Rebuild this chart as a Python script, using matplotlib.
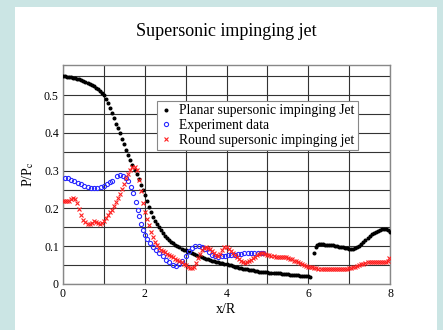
import matplotlib
matplotlib.use("Agg")
import matplotlib.pyplot as plt
from matplotlib.patches import Rectangle

plt.rcParams['font.family'] = ['Liberation Serif', 'DejaVu Serif']
plt.rcParams['mathtext.fontset'] = 'stix'

# ---- data ----
planar_x1 = [0.00, 0.05, 0.10, 0.15, 0.20, 0.25, 0.30, 0.35, 0.40, 0.45, 0.50, 0.55, 0.60, 0.65,
             0.70, 0.75, 0.80, 0.85, 0.90, 0.95, 1.00, 1.05, 1.10, 1.15, 1.20, 1.25, 1.30, 1.35,
             1.40, 1.45, 1.50, 1.55, 1.60, 1.65, 1.70, 1.75, 1.80, 1.85, 1.90, 1.95, 2.00, 2.05,
             2.10, 2.15, 2.20, 2.25, 2.30, 2.35, 2.40, 2.45, 2.50, 2.55, 2.60, 2.65, 2.70, 2.75,
             2.80, 2.85, 2.90, 2.95, 3.00, 3.05, 3.10, 3.15, 3.20, 3.25, 3.30, 3.35, 3.40, 3.45,
             3.50, 3.55, 3.60, 3.65, 3.70, 3.75, 3.80, 3.85, 3.90, 3.95, 4.00, 4.05, 4.10, 4.15,
             4.20, 4.25, 4.30, 4.35, 4.40, 4.45, 4.50, 4.55, 4.60, 4.65, 4.70, 4.75, 4.80, 4.85,
             4.90, 4.95, 5.00, 5.05, 5.10, 5.15, 5.20, 5.25, 5.30, 5.35, 5.40, 5.45, 5.50, 5.55,
             5.60, 5.65, 5.70, 5.75, 5.80, 5.85, 5.90, 5.95, 6.00, 6.05]
planar_y1 = [0.550, 0.550, 0.549, 0.548, 0.547, 0.546, 0.545, 0.544, 0.542, 0.540, 0.538, 0.536,
             0.533, 0.530, 0.527, 0.524, 0.520, 0.516, 0.512, 0.507, 0.500, 0.491, 0.480, 0.467,
             0.453, 0.439, 0.425, 0.412, 0.399, 0.385, 0.370, 0.356, 0.342, 0.328, 0.315, 0.303,
             0.292, 0.277, 0.263, 0.249, 0.235, 0.220, 0.205, 0.190, 0.177, 0.167, 0.158, 0.150,
             0.142, 0.135, 0.128, 0.122, 0.117, 0.112, 0.108, 0.104, 0.100, 0.097, 0.094, 0.091,
             0.089, 0.086, 0.084, 0.081, 0.079, 0.077, 0.075, 0.073, 0.071, 0.069, 0.067, 0.065,
             0.064, 0.062, 0.061, 0.059, 0.058, 0.056, 0.055, 0.053, 0.052, 0.050, 0.049, 0.047,
             0.046, 0.044, 0.043, 0.042, 0.041, 0.040, 0.039, 0.038, 0.037, 0.036, 0.035, 0.034,
             0.033, 0.032, 0.032, 0.031, 0.031, 0.030, 0.030, 0.029, 0.029, 0.028, 0.028, 0.027,
             0.027, 0.026, 0.026, 0.025, 0.025, 0.024, 0.024, 0.023, 0.022, 0.022, 0.021, 0.021,
             0.020, 0.019]
planar_x2 = [6.14, 6.18, 6.22, 6.26, 6.30, 6.35, 6.40, 6.45, 6.50, 6.55, 6.60, 6.65, 6.70, 6.75,
             6.80, 6.85, 6.90, 6.95, 7.00, 7.05, 7.10, 7.15, 7.20, 7.25, 7.30, 7.35, 7.40, 7.45,
             7.50, 7.55, 7.60, 7.65, 7.70, 7.75, 7.80, 7.85, 7.90, 7.95, 8.00]
planar_y2 = [0.083, 0.099, 0.104, 0.106, 0.106, 0.105, 0.104, 0.103, 0.103, 0.102, 0.102, 0.101,
             0.100, 0.099, 0.098, 0.097, 0.096, 0.095, 0.094, 0.093, 0.093, 0.095, 0.098, 0.101,
             0.106, 0.111, 0.117, 0.122, 0.127, 0.132, 0.136, 0.139, 0.141, 0.143, 0.145, 0.146,
             0.145, 0.143, 0.139]

exp_x = [0.05, 0.12, 0.20, 0.28, 0.36, 0.44, 0.52, 0.60, 0.68, 0.76, 0.84, 0.92, 1.00, 1.07,
         1.14, 1.20, 1.33, 1.40, 1.47, 1.54, 1.60, 1.66, 1.72, 1.78, 1.83, 1.86, 1.90, 1.95,
         2.00, 2.06, 2.12, 2.20, 2.28, 2.36, 2.44, 2.52, 2.60, 2.68, 2.76, 2.84, 2.92, 3.00,
         3.08, 3.16, 3.24, 3.32, 3.40, 3.48, 3.56, 3.64, 3.72, 3.80, 3.88, 3.96, 4.04, 4.12,
         4.20, 4.28, 4.36, 4.44, 4.52, 4.60, 4.68, 4.76, 4.84, 4.90]
exp_y = [0.282, 0.280, 0.276, 0.272, 0.268, 0.264, 0.260, 0.257, 0.255, 0.255, 0.255, 0.257,
         0.260, 0.264, 0.269, 0.274, 0.287, 0.288, 0.287, 0.282, 0.272, 0.258, 0.240, 0.218,
         0.197, 0.180, 0.160, 0.143, 0.130, 0.118, 0.108, 0.098, 0.089, 0.081, 0.073, 0.064,
         0.057, 0.051, 0.048, 0.052, 0.062, 0.075, 0.087, 0.095, 0.100, 0.101, 0.098, 0.092,
         0.084, 0.077, 0.073, 0.072, 0.073, 0.074, 0.076, 0.077, 0.078, 0.079, 0.080, 0.081,
         0.082, 0.082, 0.083, 0.083, 0.083, 0.082]

round_x = [0.00, 0.05, 0.10, 0.15, 0.20, 0.25, 0.30, 0.35, 0.40, 0.45, 0.50, 0.55, 0.60, 0.65,
           0.70, 0.75, 0.80, 0.85, 0.90, 0.95, 1.00, 1.05, 1.10, 1.15, 1.20, 1.25, 1.30, 1.35,
           1.40, 1.45, 1.50, 1.55, 1.60, 1.65, 1.70, 1.75, 1.80, 1.85, 1.90, 1.95, 2.00, 2.05,
           2.10, 2.15, 2.20, 2.25, 2.30, 2.35, 2.40, 2.45, 2.50, 2.55, 2.60, 2.65, 2.70, 2.75,
           2.80, 2.85, 2.90, 2.95, 3.00, 3.05, 3.10, 3.15, 3.20, 3.25, 3.30, 3.35, 3.40, 3.45,
           3.50, 3.55, 3.60, 3.65, 3.70, 3.75, 3.80, 3.85, 3.90, 3.95, 4.00, 4.05, 4.10, 4.15,
           4.20, 4.25, 4.30, 4.35, 4.40, 4.45, 4.50, 4.55, 4.60, 4.65, 4.70, 4.75, 4.80, 4.85,
           4.90, 4.95, 5.00, 5.05, 5.10, 5.15, 5.20, 5.25, 5.30, 5.35, 5.40, 5.45, 5.50, 5.55,
           5.60, 5.65, 5.70, 5.75, 5.80, 5.85, 5.90, 5.95, 6.00, 6.05, 6.10, 6.15, 6.20, 6.25,
           6.30, 6.35, 6.40, 6.45, 6.50, 6.55, 6.60, 6.65, 6.70, 6.75, 6.80, 6.85, 6.90, 6.95,
           7.00, 7.05, 7.10, 7.15, 7.20, 7.25, 7.30, 7.35, 7.40, 7.45, 7.50, 7.55, 7.60, 7.65,
           7.70, 7.75, 7.80, 7.85, 7.90, 7.95, 7.98]
round_y = [0.220, 0.220, 0.220, 0.220, 0.225, 0.229, 0.225, 0.215, 0.198, 0.183, 0.170, 0.163,
           0.160, 0.160, 0.162, 0.166, 0.165, 0.161, 0.159, 0.161, 0.166, 0.175, 0.183, 0.190,
           0.197, 0.206, 0.216, 0.227, 0.238, 0.252, 0.266, 0.280, 0.292, 0.303, 0.311, 0.309,
           0.302, 0.275, 0.245, 0.215, 0.190, 0.172, 0.155, 0.138, 0.124, 0.112, 0.103, 0.096,
           0.091, 0.087, 0.084, 0.080, 0.076, 0.073, 0.071, 0.067, 0.064, 0.060, 0.057, 0.053,
           0.049, 0.045, 0.043, 0.043, 0.046, 0.055, 0.068, 0.080, 0.089, 0.095, 0.097, 0.096,
           0.092, 0.088, 0.083, 0.078, 0.075, 0.080, 0.090, 0.097, 0.097, 0.093, 0.088, 0.083,
           0.078, 0.072, 0.066, 0.061, 0.058, 0.056, 0.057, 0.060, 0.064, 0.068, 0.072, 0.076,
           0.079, 0.081, 0.082, 0.080, 0.078, 0.077, 0.075, 0.074, 0.072, 0.071, 0.071, 0.072,
           0.072, 0.071, 0.069, 0.067, 0.065, 0.062, 0.060, 0.057, 0.055, 0.052, 0.050, 0.048,
           0.046, 0.045, 0.044, 0.043, 0.042, 0.041, 0.041, 0.040, 0.040, 0.040, 0.040, 0.039,
           0.039, 0.039, 0.039, 0.039, 0.040, 0.040, 0.040, 0.041, 0.042, 0.043, 0.044, 0.045,
           0.047, 0.049, 0.052, 0.054, 0.056, 0.057, 0.058, 0.059, 0.059, 0.059, 0.059, 0.059,
           0.059, 0.059, 0.059, 0.060, 0.070]

x_grid = [0, 1, 2, 3, 4, 5, 6, 7, 8]
x_tick_labels = ['0', '', '2', '', '4', '', '6', '', '8']
y_grid = [0, 0.05, 0.1, 0.15, 0.2, 0.25, 0.3, 0.35, 0.4, 0.45, 0.5, 0.55]
y_tick_labels = ['0', '', '0.1', '', '0.2', '', '0.3', '', '0.4', '', '0.5', '']

title = "Supersonic impinging jet"
labels = ["Planar supersonic impinging Jet", "Experiment data", "Round supersonic impinging jet"]

# ---- figure ----
fig = plt.figure(figsize=(4.43, 3.30), dpi=100)
fig.patch.set_facecolor('#cbe5e4')
panel = Rectangle((15 / 443, 0), (437 - 15) / 443, 1 - 7 / 330,
                  transform=fig.transFigure, facecolor='white',
                  edgecolor='none', zorder=-10)
fig.add_artist(panel)

ax = fig.add_axes([63 / 443, 1 - 284 / 330, (390 - 63) / 443, (284 - 65) / 330])
ax.set_zorder(5)
ax.set_facecolor('white')

ax.plot(planar_x1, planar_y1, linestyle='none', marker='o', ms=1.9, color='black',
        label=labels[0], zorder=3)
ax.plot(planar_x2, planar_y2, linestyle='none', marker='o', ms=1.9, color='black', zorder=3)
ax.plot(exp_x, exp_y, linestyle='none', marker='o', ms=3.0, mfc='none', mec='#2b2bff',
        mew=0.8, label=labels[1], zorder=3)
ax.plot(round_x, round_y, linestyle='none', marker='x', ms=2.6, color='#ff2020',
        mew=0.8, label=labels[2], zorder=3)

ax.set_xlim(0, 8)
ax.set_ylim(0, 0.58)
ax.set_xticks(x_grid)
ax.set_xticklabels(x_tick_labels)
ax.set_yticks(y_grid)
ax.set_yticklabels(y_tick_labels)
ax.grid(True, color='#333333', linewidth=0.8, zorder=1)
ax.set_axisbelow(True)
ax.tick_params(length=0, labelsize=8.5, pad=3)
for s in ax.spines.values():
    s.set_color('#888888')
    s.set_linewidth(1.0)

ax.set_xlabel('x/R', fontsize=10, labelpad=2)
ax.set_ylabel(r'P/P$_{\mathrm{c}}$', fontsize=10, labelpad=6)
ax.set_title(title, fontsize=13, pad=21)

leg = ax.legend(loc='upper left', bbox_to_anchor=((157 - 63) / 327, (284 - 101) / 219),
                borderaxespad=0, fontsize=9.8, frameon=True, fancybox=False,
                handlelength=0.8, handletextpad=0.6, labelspacing=0.12,
                borderpad=0.25, markerscale=1.0)
leg.get_frame().set_edgecolor('#888888')
leg.get_frame().set_linewidth(0.8)
leg.get_frame().set_alpha(1)

fig.savefig('out.png', dpi=100, facecolor=fig.get_facecolor())
